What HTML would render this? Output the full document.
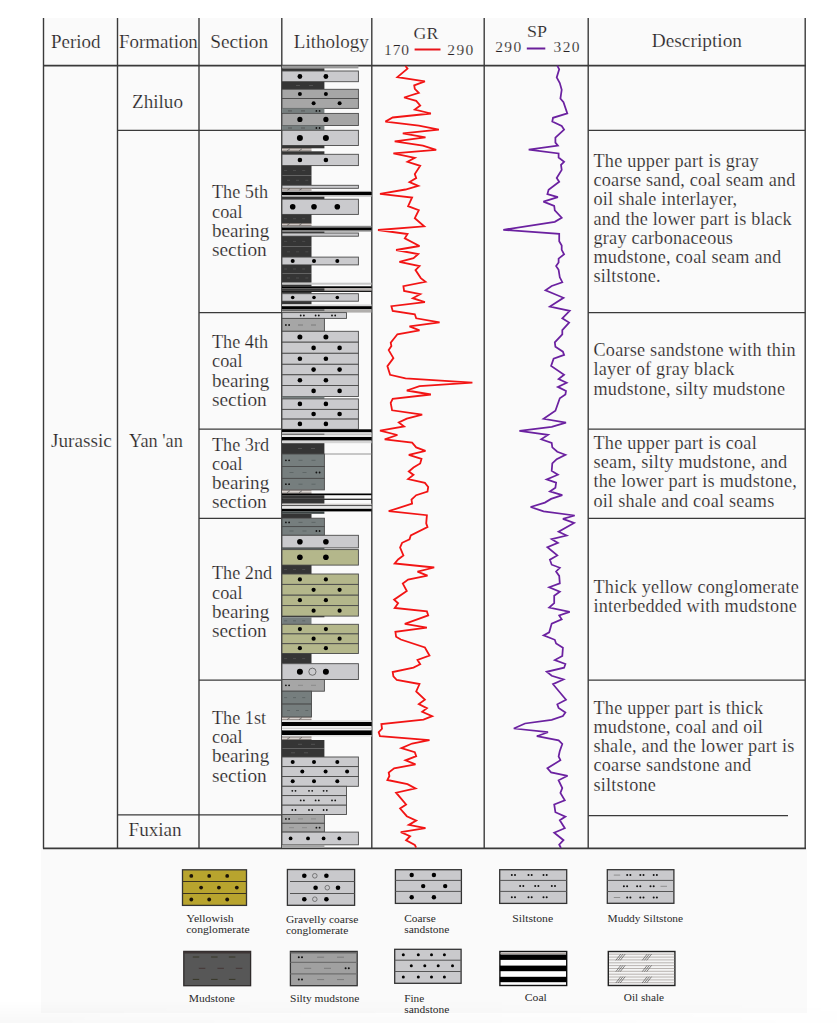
<!DOCTYPE html>
<html><head><meta charset="utf-8"><style>
html,body{margin:0;padding:0;background:#ffffff;width:837px;height:1023px;overflow:hidden}
svg{display:block}
</style></head><body>
<svg width="837" height="1023" viewBox="0 0 837 1023">
<rect x="43" y="18" width="763" height="831" fill="#fafafa"/>
<rect x="41" y="848" width="766" height="165" fill="#fafafa"/>
<line x1="43.5" y1="18" x2="43.5" y2="848.4" stroke="#3a3a3a" stroke-width="1.4"/>
<line x1="117.5" y1="18" x2="117.5" y2="848.4" stroke="#3a3a3a" stroke-width="1.4"/>
<line x1="199" y1="18" x2="199" y2="848.4" stroke="#3a3a3a" stroke-width="1.4"/>
<line x1="281.8" y1="18" x2="281.8" y2="848.4" stroke="#3a3a3a" stroke-width="1.4"/>
<line x1="371.8" y1="18" x2="371.8" y2="848.4" stroke="#3a3a3a" stroke-width="1.4"/>
<line x1="484.2" y1="18" x2="484.2" y2="848.4" stroke="#3a3a3a" stroke-width="1.4"/>
<line x1="588.2" y1="18" x2="588.2" y2="848.4" stroke="#3a3a3a" stroke-width="1.4"/>
<line x1="805.2" y1="18" x2="805.2" y2="848.4" stroke="#3a3a3a" stroke-width="1.4"/>
<line x1="43" y1="65.7" x2="806" y2="65.7" stroke="#3a3a3a" stroke-width="1.8"/>
<line x1="43" y1="848.3" x2="806" y2="848.3" stroke="#3a3a3a" stroke-width="1.8"/>
<line x1="117.5" y1="130.3" x2="281.8" y2="130.3" stroke="#3a3a3a" stroke-width="1.3"/>
<line x1="117.5" y1="814.8" x2="281.8" y2="814.8" stroke="#3a3a3a" stroke-width="1.3"/>
<line x1="199" y1="312.7" x2="281.8" y2="312.7" stroke="#3a3a3a" stroke-width="1.3"/>
<line x1="588.2" y1="312.7" x2="805.2" y2="312.7" stroke="#3a3a3a" stroke-width="1.3"/>
<line x1="199" y1="429.2" x2="281.8" y2="429.2" stroke="#3a3a3a" stroke-width="1.3"/>
<line x1="588.2" y1="429.2" x2="805.2" y2="429.2" stroke="#3a3a3a" stroke-width="1.3"/>
<line x1="199" y1="518.3" x2="281.8" y2="518.3" stroke="#3a3a3a" stroke-width="1.3"/>
<line x1="588.2" y1="518.3" x2="805.2" y2="518.3" stroke="#3a3a3a" stroke-width="1.3"/>
<line x1="199" y1="680.2" x2="281.8" y2="680.2" stroke="#3a3a3a" stroke-width="1.3"/>
<line x1="588.2" y1="680.2" x2="805.2" y2="680.2" stroke="#3a3a3a" stroke-width="1.3"/>
<line x1="588.2" y1="130.3" x2="805.2" y2="130.3" stroke="#3a3a3a" stroke-width="1.3"/>
<line x1="588.2" y1="815.6" x2="788" y2="815.6" stroke="#3a3a3a" stroke-width="1.3"/>
<rect x="282" y="65.6" width="76.4" height="2.8" fill="#9a9a9a"/>
<rect x="282" y="68.4" width="42.4" height="2.6" fill="#353535"/>
<rect x="282" y="71" width="76.4" height="10.7" fill="#cacacd" stroke="#4a4a4a" stroke-width="0.9"/>
<circle cx="299.9" cy="76.5" r="2.4" fill="#000"/>
<circle cx="325.9" cy="76.5" r="2.4" fill="#000"/>
<rect x="282" y="81.7" width="42.4" height="7.6" fill="#353535"/>
<line x1="296" y1="85.5" x2="300" y2="85.5" stroke="#555" stroke-width="0.9"/>
<line x1="309" y1="85.5" x2="313" y2="85.5" stroke="#555" stroke-width="0.9"/>
<rect x="282" y="89.3" width="76.4" height="9.2" fill="#a6a6a6" stroke="#4a4a4a" stroke-width="0.9"/>
<circle cx="299.9" cy="94" r="2" fill="#000"/>
<circle cx="325.9" cy="94" r="2" fill="#000"/>
<rect x="282" y="98.5" width="76.4" height="9.9" fill="#a6a6a6" stroke="#4a4a4a" stroke-width="0.9"/>
<circle cx="313.6" cy="103.3" r="2" fill="#000"/>
<circle cx="339.6" cy="103.3" r="2" fill="#000"/>
<rect x="282" y="108.4" width="42.4" height="5" fill="#767e7e"/>
<line x1="288" y1="110.9" x2="292" y2="110.9" stroke="#555" stroke-width="0.9"/>
<line x1="301" y1="110.9" x2="305" y2="110.9" stroke="#555" stroke-width="0.9"/>
<circle cx="316.4" cy="110.9" r="0.9" fill="#111"/><circle cx="319.6" cy="110.9" r="0.9" fill="#111"/>
<rect x="282" y="113.4" width="76.4" height="12.1" fill="#a6a6a6" stroke="#4a4a4a" stroke-width="0.9"/>
<circle cx="299.9" cy="119.4" r="2.6" fill="#000"/>
<circle cx="325.9" cy="119.4" r="2.6" fill="#000"/>
<rect x="282" y="125.5" width="42.4" height="4.8" fill="#767e7e"/>
<line x1="288" y1="128" x2="292" y2="128" stroke="#555" stroke-width="0.9"/>
<line x1="301" y1="128" x2="305" y2="128" stroke="#555" stroke-width="0.9"/>
<circle cx="316.4" cy="128" r="0.9" fill="#111"/><circle cx="319.6" cy="128" r="0.9" fill="#111"/>
<rect x="282" y="130.3" width="76.4" height="15.2" fill="#cacacd" stroke="#4a4a4a" stroke-width="0.9"/>
<circle cx="299.9" cy="137.9" r="3" fill="#000"/>
<circle cx="325.9" cy="137.9" r="3" fill="#000"/>
<rect x="282" y="145.5" width="42.4" height="2.8" fill="#353535"/>
<rect x="282" y="148.3" width="29.5" height="3" fill="#d9d3cf"/>
<line x1="282" y1="148.7" x2="311.5" y2="148.7" stroke="#6a625e" stroke-width="0.8"/>
<line x1="282" y1="150.9" x2="311.5" y2="150.9" stroke="#6a625e" stroke-width="0.8"/>
<line x1="287" y1="150.8" x2="290" y2="148.8" stroke="#555" stroke-width="0.7"/>
<line x1="299" y1="150.8" x2="302" y2="148.8" stroke="#555" stroke-width="0.7"/>
<rect x="282" y="151.3" width="42.4" height="3" fill="#353535"/>
<rect x="282" y="154.3" width="76.4" height="11.3" fill="#cacacd" stroke="#4a4a4a" stroke-width="0.9"/>
<circle cx="299.9" cy="160" r="2.3" fill="#000"/>
<circle cx="325.9" cy="160" r="2.3" fill="#000"/>
<rect x="282" y="165.6" width="29.5" height="9.8" fill="#353535"/>
<line x1="284.1" y1="170.5" x2="287.1" y2="170.5" stroke="#4e4e4e" stroke-width="0.9"/>
<line x1="293" y1="170.5" x2="296" y2="170.5" stroke="#4e4e4e" stroke-width="0.9"/>
<line x1="302.2" y1="170.5" x2="305.2" y2="170.5" stroke="#4e4e4e" stroke-width="0.9"/>
<rect x="282" y="175.4" width="29.5" height="9.9" fill="#353535"/>
<line x1="287" y1="180.3" x2="290" y2="180.3" stroke="#4e4e4e" stroke-width="0.9"/>
<line x1="296" y1="180.3" x2="299" y2="180.3" stroke="#4e4e4e" stroke-width="0.9"/>
<line x1="305.3" y1="180.3" x2="308.3" y2="180.3" stroke="#4e4e4e" stroke-width="0.9"/>
<rect x="282" y="185.3" width="76.4" height="3" fill="#cacacd" stroke="#4a4a4a" stroke-width="0.9"/>
<rect x="282" y="188.3" width="29.5" height="2.4" fill="#d9d3cf"/>
<line x1="282" y1="188.7" x2="311.5" y2="188.7" stroke="#6a625e" stroke-width="0.8"/>
<line x1="282" y1="190.3" x2="311.5" y2="190.3" stroke="#6a625e" stroke-width="0.8"/>
<line x1="287" y1="190.5" x2="290" y2="188.5" stroke="#555" stroke-width="0.7"/>
<line x1="299" y1="190.5" x2="302" y2="188.5" stroke="#555" stroke-width="0.7"/>
<rect x="282" y="190.7" width="89.5" height="1" fill="#e8e8e8"/>
<rect x="282" y="191.7" width="89.5" height="3.3" fill="#000"/>
<rect x="282" y="195" width="89.5" height="1.7" fill="#bcbcbc"/>
<rect x="282" y="196.7" width="42.4" height="2.5" fill="#353535"/>
<rect x="282" y="199.2" width="76.4" height="15.2" fill="#cacacd" stroke="#4a4a4a" stroke-width="0.9"/>
<circle cx="292.7" cy="206.7" r="2.8" fill="#000"/>
<circle cx="314" cy="206.7" r="2.8" fill="#000"/>
<circle cx="337.3" cy="206.7" r="2.8" fill="#000"/>
<rect x="282" y="214.4" width="29.5" height="8.7" fill="#353535"/>
<line x1="284.1" y1="218.7" x2="287.1" y2="218.7" stroke="#4e4e4e" stroke-width="0.9"/>
<line x1="293" y1="218.7" x2="296" y2="218.7" stroke="#4e4e4e" stroke-width="0.9"/>
<line x1="302.2" y1="218.7" x2="305.2" y2="218.7" stroke="#4e4e4e" stroke-width="0.9"/>
<rect x="282" y="223.1" width="29.5" height="2.7" fill="#d9d3cf"/>
<line x1="282" y1="223.5" x2="311.5" y2="223.5" stroke="#6a625e" stroke-width="0.8"/>
<line x1="282" y1="225.4" x2="311.5" y2="225.4" stroke="#6a625e" stroke-width="0.8"/>
<line x1="287" y1="225.4" x2="290" y2="223.4" stroke="#555" stroke-width="0.7"/>
<line x1="299" y1="225.4" x2="302" y2="223.4" stroke="#555" stroke-width="0.7"/>
<rect x="282" y="225.8" width="89.5" height="1.7" fill="#8a8a8a"/>
<rect x="282" y="227.5" width="89.5" height="3" fill="#000"/>
<rect x="282" y="230.5" width="89.5" height="1.1" fill="#8a8a8a"/>
<rect x="282" y="231.6" width="42.4" height="1.4" fill="#353535"/>
<rect x="282" y="233" width="76.4" height="3.2" fill="#cacacd" stroke="#4a4a4a" stroke-width="0.9"/>
<rect x="282" y="236.2" width="29.5" height="10.4" fill="#353535"/>
<line x1="284.1" y1="241.4" x2="287.1" y2="241.4" stroke="#4e4e4e" stroke-width="0.9"/>
<line x1="293" y1="241.4" x2="296" y2="241.4" stroke="#4e4e4e" stroke-width="0.9"/>
<line x1="302.2" y1="241.4" x2="305.2" y2="241.4" stroke="#4e4e4e" stroke-width="0.9"/>
<rect x="282" y="246.6" width="29.5" height="10.5" fill="#353535"/>
<line x1="287" y1="251.8" x2="290" y2="251.8" stroke="#4e4e4e" stroke-width="0.9"/>
<line x1="296" y1="251.8" x2="299" y2="251.8" stroke="#4e4e4e" stroke-width="0.9"/>
<line x1="305.3" y1="251.8" x2="308.3" y2="251.8" stroke="#4e4e4e" stroke-width="0.9"/>
<rect x="282" y="257.1" width="76.4" height="7.8" fill="#cacacd" stroke="#4a4a4a" stroke-width="0.9"/>
<circle cx="292.7" cy="261" r="2" fill="#000"/>
<circle cx="314" cy="261" r="2" fill="#000"/>
<circle cx="337.3" cy="261" r="2" fill="#000"/>
<rect x="282" y="264.9" width="29.5" height="8.5" fill="#353535"/>
<line x1="284.1" y1="269" x2="287.1" y2="269" stroke="#4e4e4e" stroke-width="0.9"/>
<line x1="293" y1="269" x2="296" y2="269" stroke="#4e4e4e" stroke-width="0.9"/>
<line x1="302.2" y1="269" x2="305.2" y2="269" stroke="#4e4e4e" stroke-width="0.9"/>
<rect x="282" y="273.4" width="29.5" height="9.3" fill="#353535"/>
<line x1="287" y1="278" x2="290" y2="278" stroke="#4e4e4e" stroke-width="0.9"/>
<line x1="296" y1="278" x2="299" y2="278" stroke="#4e4e4e" stroke-width="0.9"/>
<line x1="305.3" y1="278" x2="308.3" y2="278" stroke="#4e4e4e" stroke-width="0.9"/>
<rect x="282" y="282.7" width="89.5" height="2" fill="#c8c8c8"/>
<rect x="282" y="284.7" width="29.5" height="1.6" fill="#353535"/>
<rect x="282" y="286.3" width="89.5" height="2" fill="#000"/>
<rect x="282" y="288.3" width="89.5" height="2.4" fill="#b8b3b0"/>
<rect x="282" y="288.3" width="42.4" height="2.4" fill="#3a3a3a"/>
<rect x="282" y="290.7" width="89.5" height="1.2" fill="#000"/>
<rect x="282" y="291.9" width="29.5" height="1.8" fill="#353535"/>
<rect x="282" y="293.7" width="76.4" height="7.5" fill="#cacacd" stroke="#4a4a4a" stroke-width="0.9"/>
<circle cx="292.7" cy="297.5" r="1.8" fill="#000"/>
<circle cx="314" cy="297.5" r="1.8" fill="#000"/>
<circle cx="337.3" cy="297.5" r="1.8" fill="#000"/>
<rect x="282" y="301.2" width="29.5" height="3.2" fill="#353535"/>
<rect x="282" y="304.4" width="89.5" height="1.8" fill="#d8d8d8"/>
<rect x="282" y="306.2" width="89.5" height="3" fill="#000"/>
<rect x="282" y="309.2" width="89.5" height="3.4" fill="#b0aeac"/>
<rect x="282" y="309.2" width="42.4" height="1.8" fill="#666"/>
<rect x="282" y="312.6" width="64.5" height="5.8" fill="#cacacd" stroke="#4a4a4a" stroke-width="0.9"/>
<circle cx="300.7" cy="315.5" r="0.9" fill="#111"/><circle cx="303.9" cy="315.5" r="0.9" fill="#111"/>
<circle cx="315.6" cy="315.5" r="0.9" fill="#111"/><circle cx="318.8" cy="315.5" r="0.9" fill="#111"/>
<circle cx="332" cy="315.5" r="0.9" fill="#111"/><circle cx="335.2" cy="315.5" r="0.9" fill="#111"/>
<rect x="282" y="318.4" width="42.4" height="12.9" fill="#a6a6a6" stroke="#4a4a4a" stroke-width="0.9"/>
<circle cx="285.9" cy="325" r="0.9" fill="#111"/><circle cx="289.1" cy="325" r="0.9" fill="#111"/>
<line x1="298" y1="325" x2="303" y2="325" stroke="#777" stroke-width="0.9"/>
<line x1="311" y1="325" x2="316" y2="325" stroke="#777" stroke-width="0.9"/>
<rect x="282" y="331.3" width="76.4" height="10.9" fill="#cacacd" stroke="#4a4a4a" stroke-width="0.9"/>
<circle cx="299.9" cy="337" r="2.5" fill="#000"/>
<circle cx="325.9" cy="337" r="2.5" fill="#000"/>
<rect x="282" y="342.2" width="76.4" height="11.1" fill="#cacacd" stroke="#4a4a4a" stroke-width="0.9"/>
<circle cx="313.6" cy="347.9" r="2.3" fill="#000"/>
<circle cx="339.6" cy="347.9" r="2.3" fill="#000"/>
<rect x="282" y="353.3" width="76.4" height="11" fill="#cacacd" stroke="#4a4a4a" stroke-width="0.9"/>
<circle cx="299.9" cy="358.7" r="2.3" fill="#000"/>
<circle cx="325.9" cy="358.7" r="2.3" fill="#000"/>
<rect x="282" y="364.3" width="76.4" height="10.5" fill="#cacacd" stroke="#4a4a4a" stroke-width="0.9"/>
<circle cx="313.6" cy="369.6" r="2.3" fill="#000"/>
<circle cx="339.6" cy="369.6" r="2.3" fill="#000"/>
<rect x="282" y="374.8" width="76.4" height="10.7" fill="#cacacd" stroke="#4a4a4a" stroke-width="0.9"/>
<circle cx="299.9" cy="380.2" r="2.3" fill="#000"/>
<circle cx="325.9" cy="380.2" r="2.3" fill="#000"/>
<rect x="282" y="385.5" width="76.4" height="11" fill="#cacacd" stroke="#4a4a4a" stroke-width="0.9"/>
<circle cx="313.6" cy="390.9" r="2.3" fill="#000"/>
<circle cx="339.6" cy="390.9" r="2.3" fill="#000"/>
<rect x="282" y="396.5" width="42.4" height="2.4" fill="#767e7e"/>
<rect x="282" y="398.9" width="76.4" height="10.5" fill="#cacacd" stroke="#4a4a4a" stroke-width="0.9"/>
<circle cx="299.9" cy="403.9" r="2.3" fill="#000"/>
<circle cx="325.9" cy="403.9" r="2.3" fill="#000"/>
<rect x="282" y="409.4" width="76.4" height="9.7" fill="#cacacd" stroke="#4a4a4a" stroke-width="0.9"/>
<circle cx="313.6" cy="414" r="2.3" fill="#000"/>
<circle cx="339.6" cy="414" r="2.3" fill="#000"/>
<rect x="282" y="419.1" width="76.4" height="10.2" fill="#cacacd" stroke="#4a4a4a" stroke-width="0.9"/>
<circle cx="299.9" cy="423.9" r="2.3" fill="#000"/>
<circle cx="325.9" cy="423.9" r="2.3" fill="#000"/>
<rect x="282" y="429.3" width="89.5" height="3.1" fill="#000"/>
<rect x="282" y="432.4" width="89.5" height="4.6" fill="#e6e6e6"/>
<line x1="282" y1="434.2" x2="371.5" y2="434.2" stroke="#aaa" stroke-width="0.8"/>
<line x1="282" y1="434.2" x2="324.4" y2="434.2" stroke="#444" stroke-width="0.9"/>
<rect x="282" y="437" width="89.5" height="3.6" fill="#000"/>
<rect x="282" y="440.6" width="89.5" height="2.6" fill="#d6d6d6"/>
<rect x="282" y="443.2" width="42.4" height="10.8" fill="#353535"/>
<line x1="298" y1="448.5" x2="302" y2="448.5" stroke="#555" stroke-width="0.9"/>
<line x1="311" y1="448.5" x2="315" y2="448.5" stroke="#555" stroke-width="0.9"/>
<line x1="324.4" y1="454" x2="371.5" y2="454" stroke="#888" stroke-width="0.9"/>
<rect x="282" y="454" width="42.4" height="12.5" fill="#767e7e" stroke="#4a4a4a" stroke-width="0.9"/>
<circle cx="285.9" cy="460.3" r="0.9" fill="#111"/><circle cx="289.1" cy="460.3" r="0.9" fill="#111"/>
<line x1="298.5" y1="460.3" x2="302.5" y2="460.3" stroke="#5c6464" stroke-width="0.9"/>
<line x1="311.5" y1="460.3" x2="315.5" y2="460.3" stroke="#5c6464" stroke-width="0.9"/>
<rect x="282" y="466.5" width="42.4" height="11.9" fill="#767e7e" stroke="#4a4a4a" stroke-width="0.9"/>
<line x1="289.5" y1="472.5" x2="293.5" y2="472.5" stroke="#5c6464" stroke-width="0.9"/>
<line x1="302.5" y1="472.5" x2="306.5" y2="472.5" stroke="#5c6464" stroke-width="0.9"/>
<circle cx="316.4" cy="472.5" r="0.9" fill="#111"/><circle cx="319.6" cy="472.5" r="0.9" fill="#111"/>
<rect x="282" y="478.4" width="42.4" height="11.5" fill="#767e7e" stroke="#4a4a4a" stroke-width="0.9"/>
<circle cx="285.9" cy="484.2" r="0.9" fill="#111"/><circle cx="289.1" cy="484.2" r="0.9" fill="#111"/>
<line x1="298.5" y1="484.2" x2="302.5" y2="484.2" stroke="#5c6464" stroke-width="0.9"/>
<line x1="311.5" y1="484.2" x2="315.5" y2="484.2" stroke="#5c6464" stroke-width="0.9"/>
<rect x="282" y="489.9" width="29.5" height="3.6" fill="#d9d3cf"/>
<line x1="282" y1="490.3" x2="311.5" y2="490.3" stroke="#6a625e" stroke-width="0.8"/>
<line x1="282" y1="493.1" x2="311.5" y2="493.1" stroke="#6a625e" stroke-width="0.8"/>
<line x1="287" y1="492.7" x2="290" y2="490.7" stroke="#555" stroke-width="0.7"/>
<line x1="299" y1="492.7" x2="302" y2="490.7" stroke="#555" stroke-width="0.7"/>
<rect x="282" y="493.5" width="89.5" height="1.7" fill="#000"/>
<rect x="282" y="495.2" width="42.4" height="3.5" fill="#353535"/>
<rect x="282" y="498.7" width="89.5" height="1.1" fill="#000"/>
<rect x="282" y="499.8" width="42.4" height="3.9" fill="#353535"/>
<rect x="282" y="503.7" width="89.5" height="1.5" fill="#d0cdcb"/>
<rect x="282" y="505.2" width="89.5" height="1" fill="#333"/>
<rect x="282" y="506.2" width="89.5" height="2.6" fill="#e8e8e8"/>
<rect x="282" y="508.8" width="89.5" height="2.6" fill="#000"/>
<rect x="282" y="511.4" width="42.4" height="2.4" fill="#3c4444"/>
<rect x="282" y="513.8" width="29.5" height="4.4" fill="#353535"/>
<rect x="282" y="518.2" width="42.4" height="8.4" fill="#767e7e" stroke="#4a4a4a" stroke-width="0.9"/>
<circle cx="285.9" cy="522.4" r="0.9" fill="#111"/><circle cx="289.1" cy="522.4" r="0.9" fill="#111"/>
<line x1="298.5" y1="522.4" x2="302.5" y2="522.4" stroke="#5c6464" stroke-width="0.9"/>
<line x1="311.5" y1="522.4" x2="315.5" y2="522.4" stroke="#5c6464" stroke-width="0.9"/>
<rect x="282" y="526.6" width="42.4" height="8.7" fill="#767e7e" stroke="#4a4a4a" stroke-width="0.9"/>
<line x1="289.5" y1="531" x2="293.5" y2="531" stroke="#5c6464" stroke-width="0.9"/>
<line x1="302.5" y1="531" x2="306.5" y2="531" stroke="#5c6464" stroke-width="0.9"/>
<circle cx="316.4" cy="531" r="0.9" fill="#111"/><circle cx="319.6" cy="531" r="0.9" fill="#111"/>
<rect x="282" y="535.3" width="76.4" height="12.6" fill="#cacacd" stroke="#4a4a4a" stroke-width="0.9"/>
<circle cx="299.9" cy="541.7" r="2.8" fill="#000"/>
<circle cx="325.9" cy="541.7" r="2.8" fill="#000"/>
<rect x="282" y="547.9" width="42.4" height="1.7" fill="#555c5c"/>
<rect x="282" y="549.6" width="76.4" height="15.5" fill="#b4b78b" stroke="#4a4a4a" stroke-width="0.9"/>
<circle cx="299.9" cy="557.3" r="2.8" fill="#000"/>
<circle cx="325.9" cy="557.3" r="2.8" fill="#000"/>
<rect x="282" y="565.1" width="29.5" height="8.9" fill="#353535"/>
<line x1="284.1" y1="569.5" x2="287.1" y2="569.5" stroke="#4e4e4e" stroke-width="0.9"/>
<line x1="293" y1="569.5" x2="296" y2="569.5" stroke="#4e4e4e" stroke-width="0.9"/>
<line x1="302.2" y1="569.5" x2="305.2" y2="569.5" stroke="#4e4e4e" stroke-width="0.9"/>
<rect x="282" y="574" width="76.4" height="10.4" fill="#b4b78b" stroke="#4a4a4a" stroke-width="0.9"/>
<circle cx="299.9" cy="579.4" r="2.1" fill="#000"/>
<circle cx="325.9" cy="579.4" r="2.1" fill="#000"/>
<rect x="282" y="584.4" width="76.4" height="10.8" fill="#b4b78b" stroke="#4a4a4a" stroke-width="0.9"/>
<circle cx="313.6" cy="589.8" r="2.1" fill="#000"/>
<circle cx="339.6" cy="589.8" r="2.1" fill="#000"/>
<rect x="282" y="595.2" width="76.4" height="10.4" fill="#b4b78b" stroke="#4a4a4a" stroke-width="0.9"/>
<circle cx="299.9" cy="600.2" r="2.1" fill="#000"/>
<circle cx="325.9" cy="600.2" r="2.1" fill="#000"/>
<rect x="282" y="605.6" width="76.4" height="10.5" fill="#b4b78b" stroke="#4a4a4a" stroke-width="0.9"/>
<circle cx="313.6" cy="610.7" r="2.1" fill="#000"/>
<circle cx="339.6" cy="610.7" r="2.1" fill="#000"/>
<rect x="282" y="616.1" width="42.4" height="1.2" fill="#353535"/>
<rect x="282" y="617.3" width="29.5" height="7" fill="#767e7e"/>
<line x1="284.1" y1="620.8" x2="287.1" y2="620.8" stroke="#5c6464" stroke-width="0.9"/>
<line x1="293" y1="620.8" x2="296" y2="620.8" stroke="#5c6464" stroke-width="0.9"/>
<line x1="302.2" y1="620.8" x2="305.2" y2="620.8" stroke="#5c6464" stroke-width="0.9"/>
<rect x="282" y="624.3" width="76.4" height="9.6" fill="#b4b78b" stroke="#4a4a4a" stroke-width="0.9"/>
<circle cx="299.9" cy="629.1" r="2.1" fill="#000"/>
<circle cx="325.9" cy="629.1" r="2.1" fill="#000"/>
<rect x="282" y="633.9" width="76.4" height="9.8" fill="#b4b78b" stroke="#4a4a4a" stroke-width="0.9"/>
<circle cx="313.6" cy="638.7" r="2.1" fill="#000"/>
<circle cx="339.6" cy="638.7" r="2.1" fill="#000"/>
<rect x="282" y="643.7" width="76.4" height="9.8" fill="#b4b78b" stroke="#4a4a4a" stroke-width="0.9"/>
<circle cx="299.9" cy="648.2" r="2.1" fill="#000"/>
<circle cx="325.9" cy="648.2" r="2.1" fill="#000"/>
<rect x="282" y="653.5" width="29.5" height="10.2" fill="#353535"/>
<line x1="284.1" y1="658.6" x2="287.1" y2="658.6" stroke="#4e4e4e" stroke-width="0.9"/>
<line x1="293" y1="658.6" x2="296" y2="658.6" stroke="#4e4e4e" stroke-width="0.9"/>
<line x1="302.2" y1="658.6" x2="305.2" y2="658.6" stroke="#4e4e4e" stroke-width="0.9"/>
<rect x="282" y="663.7" width="76.4" height="15.8" fill="#cacacd" stroke="#4a4a4a" stroke-width="0.9"/>
<circle cx="299.9" cy="671.7" r="3" fill="#000"/>
<circle cx="325.9" cy="671.7" r="3" fill="#000"/>
<circle cx="312.4" cy="671.7" r="3.6" fill="none" stroke="#555" stroke-width="0.8"/>
<rect x="282" y="679.5" width="42.4" height="11.7" fill="#a6a6a6" stroke="#4a4a4a" stroke-width="0.9"/>
<circle cx="285.9" cy="685.3" r="0.9" fill="#111"/><circle cx="289.1" cy="685.3" r="0.9" fill="#111"/>
<line x1="298" y1="685.3" x2="303" y2="685.3" stroke="#888" stroke-width="0.9"/>
<line x1="311" y1="685.3" x2="316" y2="685.3" stroke="#888" stroke-width="0.9"/>
<rect x="282" y="691.2" width="29.5" height="12.9" fill="#767e7e" stroke="#4a4a4a" stroke-width="0.9"/>
<line x1="284.1" y1="697.6" x2="287.1" y2="697.6" stroke="#5c6464" stroke-width="0.9"/>
<line x1="293" y1="697.6" x2="296" y2="697.6" stroke="#5c6464" stroke-width="0.9"/>
<line x1="302.2" y1="697.6" x2="305.2" y2="697.6" stroke="#5c6464" stroke-width="0.9"/>
<rect x="282" y="704.1" width="29.5" height="12.9" fill="#767e7e" stroke="#4a4a4a" stroke-width="0.9"/>
<line x1="287" y1="710.5" x2="290" y2="710.5" stroke="#5c6464" stroke-width="0.9"/>
<line x1="296" y1="710.5" x2="299" y2="710.5" stroke="#5c6464" stroke-width="0.9"/>
<line x1="305.3" y1="710.5" x2="308.3" y2="710.5" stroke="#5c6464" stroke-width="0.9"/>
<rect x="282" y="717" width="29.5" height="3.2" fill="#d9d3cf"/>
<line x1="282" y1="717.4" x2="311.5" y2="717.4" stroke="#6a625e" stroke-width="0.8"/>
<line x1="282" y1="719.8" x2="311.5" y2="719.8" stroke="#6a625e" stroke-width="0.8"/>
<line x1="287" y1="719.6" x2="290" y2="717.6" stroke="#555" stroke-width="0.7"/>
<line x1="299" y1="719.6" x2="302" y2="717.6" stroke="#555" stroke-width="0.7"/>
<rect x="282" y="720.2" width="89.5" height="1.8" fill="#e0e0e0"/>
<rect x="282" y="722" width="89.5" height="4.2" fill="#000"/>
<rect x="282" y="726.2" width="89.5" height="4.2" fill="#f4f4f4"/>
<line x1="282" y1="728.3" x2="371.5" y2="728.3" stroke="#bbb" stroke-width="0.8"/>
<rect x="282" y="730.4" width="89.5" height="4.6" fill="#000"/>
<rect x="282" y="735" width="89.5" height="1.6" fill="#e0e0e0"/>
<rect x="282" y="736.6" width="29.5" height="3.4" fill="#d9d3cf"/>
<line x1="282" y1="737" x2="311.5" y2="737" stroke="#6a625e" stroke-width="0.8"/>
<line x1="282" y1="739.6" x2="311.5" y2="739.6" stroke="#6a625e" stroke-width="0.8"/>
<line x1="287" y1="739.3" x2="290" y2="737.3" stroke="#555" stroke-width="0.7"/>
<line x1="299" y1="739.3" x2="302" y2="737.3" stroke="#555" stroke-width="0.7"/>
<rect x="282" y="740" width="42.4" height="8.6" fill="#353535"/>
<line x1="298" y1="744.3" x2="302" y2="744.3" stroke="#555" stroke-width="0.9"/>
<line x1="311" y1="744.3" x2="315" y2="744.3" stroke="#555" stroke-width="0.9"/>
<rect x="282" y="748.6" width="42.4" height="8.4" fill="#353535"/>
<line x1="291" y1="752.8" x2="295" y2="752.8" stroke="#555" stroke-width="0.9"/>
<line x1="304" y1="752.8" x2="308" y2="752.8" stroke="#555" stroke-width="0.9"/>
<rect x="282" y="757" width="76.4" height="9.6" fill="#cacacd" stroke="#4a4a4a" stroke-width="0.9"/>
<circle cx="292.7" cy="761.9" r="2" fill="#000"/>
<circle cx="314" cy="761.9" r="2" fill="#000"/>
<circle cx="337.3" cy="761.9" r="2" fill="#000"/>
<rect x="282" y="766.6" width="76.4" height="9.9" fill="#cacacd" stroke="#4a4a4a" stroke-width="0.9"/>
<circle cx="302.3" cy="771.5" r="2" fill="#000"/>
<circle cx="325.6" cy="771.5" r="2" fill="#000"/>
<circle cx="347.1" cy="771.5" r="2" fill="#000"/>
<rect x="282" y="776.5" width="76.4" height="9.8" fill="#cacacd" stroke="#4a4a4a" stroke-width="0.9"/>
<circle cx="292.7" cy="781.3" r="2" fill="#000"/>
<circle cx="314" cy="781.3" r="2" fill="#000"/>
<circle cx="337.3" cy="781.3" r="2" fill="#000"/>
<rect x="282" y="786.3" width="64.5" height="9.3" fill="#cacacd" stroke="#4a4a4a" stroke-width="0.9"/>
<circle cx="292.3" cy="790.8" r="0.9" fill="#111"/><circle cx="295.5" cy="790.8" r="0.9" fill="#111"/>
<circle cx="309" cy="790.8" r="0.9" fill="#111"/><circle cx="312.2" cy="790.8" r="0.9" fill="#111"/>
<circle cx="323.6" cy="790.8" r="0.9" fill="#111"/><circle cx="326.8" cy="790.8" r="0.9" fill="#111"/>
<rect x="282" y="795.6" width="64.5" height="9.6" fill="#cacacd" stroke="#4a4a4a" stroke-width="0.9"/>
<circle cx="300.7" cy="800.4" r="0.9" fill="#111"/><circle cx="303.9" cy="800.4" r="0.9" fill="#111"/>
<circle cx="315.6" cy="800.4" r="0.9" fill="#111"/><circle cx="318.8" cy="800.4" r="0.9" fill="#111"/>
<circle cx="332" cy="800.4" r="0.9" fill="#111"/><circle cx="335.2" cy="800.4" r="0.9" fill="#111"/>
<rect x="282" y="805.2" width="64.5" height="9.3" fill="#cacacd" stroke="#4a4a4a" stroke-width="0.9"/>
<circle cx="292.3" cy="810" r="0.9" fill="#111"/><circle cx="295.5" cy="810" r="0.9" fill="#111"/>
<circle cx="309" cy="810" r="0.9" fill="#111"/><circle cx="312.2" cy="810" r="0.9" fill="#111"/>
<circle cx="323.6" cy="810" r="0.9" fill="#111"/><circle cx="326.8" cy="810" r="0.9" fill="#111"/>
<rect x="282" y="814.5" width="42.4" height="8.8" fill="#a6a6a6" stroke="#4a4a4a" stroke-width="0.9"/>
<circle cx="285.9" cy="818.9" r="0.9" fill="#111"/><circle cx="289.1" cy="818.9" r="0.9" fill="#111"/>
<line x1="298" y1="818.9" x2="303" y2="818.9" stroke="#888" stroke-width="0.9"/>
<line x1="311" y1="818.9" x2="316" y2="818.9" stroke="#888" stroke-width="0.9"/>
<rect x="282" y="823.3" width="42.4" height="8.8" fill="#a6a6a6" stroke="#4a4a4a" stroke-width="0.9"/>
<line x1="289" y1="827.7" x2="294" y2="827.7" stroke="#888" stroke-width="0.9"/>
<line x1="302" y1="827.7" x2="307" y2="827.7" stroke="#888" stroke-width="0.9"/>
<circle cx="316.4" cy="827.7" r="0.9" fill="#111"/><circle cx="319.6" cy="827.7" r="0.9" fill="#111"/>
<rect x="282" y="832.1" width="76.4" height="12.7" fill="#cacacd" stroke="#4a4a4a" stroke-width="0.9"/>
<circle cx="290.6" cy="838.4" r="1.9" fill="#000"/>
<circle cx="308" cy="838.4" r="1.9" fill="#000"/>
<circle cx="323.6" cy="838.4" r="1.9" fill="#000"/>
<circle cx="339.3" cy="838.4" r="1.9" fill="#000"/>
<rect x="282" y="844.8" width="42.4" height="3.2" fill="#a6a6a6"/>
<polyline points="405.5,66 407.5,68.7 397.4,77.1 424.9,81.4 414.2,85.4 414.8,88.8 418.8,92.8 404.1,97.5 416.2,100.8 420.2,105.5 414.8,109.5 430.9,113.5 392.7,117.5 385.4,121.6 418.8,125.6 438.9,129.6 402.8,133.3 425.5,137.3 394.7,141.4 422.9,145.6 436.2,149.9 393.4,153.3 414.8,157.8 407.5,161.8 420.2,165.8 414.8,174.1 416.2,178.1 409.5,182.1 418.2,185.9 405.5,189.5 380,193.9 412.1,197.5 408.1,206.2 418.8,210.2 414.8,218.2 424.2,226.3 378,230 407.5,234 404.8,238.3 419.5,246 396.1,250 418.2,254.1 413.5,258.1 399.4,261.8 419.5,266.1 415.5,270.1 420.8,278.1 425.5,281.8 403.4,286.2 404.1,290.9 420.2,294.2 412.8,298.2 424.9,302.2 391.4,306.2 392.7,310.9 414.8,314.3 416.2,318.3 439.6,322.3 409.5,326.3 419.5,330.3 397.4,334.3 390.7,342.7 391.4,346.1 388.7,350.1 393.4,358.1 387.4,366.1 390.1,374.8 405.5,378.4 472.4,382.6 419.5,386.2 406.8,390.5 430.9,394.5 392.7,398.9 390.7,402.9 392.1,410.3 422.2,414.6 406.8,418.6 398.8,422.4 404.1,426.5 380,430.7 397.4,435 384.7,439.4 412.1,442.7 416.2,447.4 425.5,450.8 408.8,454.8 421.5,458.8 420.2,463.5 413.5,467.5 408.8,471.5 413.5,474.9 408.1,479.1 424.9,482.9 428.2,486.9 427.5,491.6 416.2,495.2 411.5,499.6 412.1,503.6 388.7,511.2 426.9,515.2 426.2,523.4 427.5,527.1 410.8,535.4 409.5,539.4 402.1,542.8 400.1,547.5 403.4,555.5 398.1,559.5 394.7,563.5 434.2,567.5 417.5,571.6 427.5,575.6 408.1,579.6 402.8,583.6 406.8,591 394.1,599.7 398.1,603.2 394.7,608 426.9,611.4 428.2,615.4 404.8,623.8 426.9,627.7 395.4,631.8 396.1,636.8 400.8,639.5 424.9,647.5 429.5,655.5 417.5,660 420.2,664.2 413.5,667.6 392.7,672 393.4,676.3 396.8,680 419.5,684 416.2,691.5 424.9,699.6 418.8,704.1 426.9,708.1 422.2,711.7 432.2,716.1 423.5,719.7 381.4,724.1 382,728.8 378.7,732.2 380,736.2 429.5,740.2 412.1,743.5 401.4,748.2 414.8,752.2 416.2,756.2 405.5,760.3 415.5,764.3 394.1,768.3 388.7,772.5 389.4,776 387.4,780 407.5,784.1 415.5,788.5 396.1,792.7 406.1,804.5 400.1,808.5 406.8,816.2 416.2,820.6 408.8,824.9 425.5,828.2 400.8,832.2 410.1,836.2 406.1,840.3 414.8,845 416.2,847.6" fill="none" stroke="#f21414" stroke-width="1.8" stroke-linejoin="miter" stroke-miterlimit="3"/>
<polyline points="557.3,65.6 559.2,69.3 556.7,77.4 559.8,83 561.7,89.8 560.4,98.5 563.5,102.2 567.3,113.4 553,117.8 552.3,121.5 561.7,125.9 564.1,129.6 555.4,137.7 555.4,142.6 557.9,145.7 528.7,149.7 558.6,153.5 558.6,157.5 564.1,161.8 561,164.9 561.7,169.9 556.7,178 559.2,181.7 548.6,189.8 547.4,194.1 557.9,197.2 543.4,201.6 554.2,205.9 554.8,210.3 561.7,217.7 554.8,221.8 503.3,229.8 559.2,233.9 559.2,241.3 561.7,245.6 561.7,249.9 564.1,254.3 558.6,258.6 558.6,262.4 556.1,266.1 558.6,269.8 559.8,277.3 562.3,282.2 551.7,286 545.5,290.3 563.5,297.8 549.9,306.5 569.7,310.8 562.3,318.3 569.1,322.6 562.3,330.1 562.3,334.3 554.8,342.4 555.4,346.8 562.9,351.7 564.1,354.9 553.6,358.6 551.1,366 564.1,374.7 558.6,379.1 566.6,382.8 557.9,386.9 566,390.9 565.4,394.6 559.8,398.3 555.4,410.8 543.6,418.8 566,422.6 551.7,426.8 519.4,430.9 548,434.9 541.2,439.3 551.7,443 552.3,447.3 557.3,451.7 565.4,454.8 556.7,459.1 552.3,463.5 551.7,470.9 557.9,474.7 546.7,479.4 556.1,482.7 555.4,487.7 549.9,491.4 562.3,495.2 551.1,498.9 544.9,502.6 530.6,507 543.6,511.3 574.7,515.5 562.9,518.9 574.1,523 558.6,531.7 566.6,535.5 551.7,539.2 557.9,542.9 547.4,547.3 557.3,555.4 549.9,559.7 551.7,564.7 559.8,567.8 556.1,571.5 559.2,575.9 559.8,583.3 549.2,587.3 559.8,591.8 554.2,595.7 554.2,603.2 549.2,607.5 569.7,611.8 559.2,615.5 561.7,619.3 551.7,623.6 549.2,632.3 543.6,635.4 554.8,639.8 556.1,643.5 562.9,647.8 562.3,655.9 554.8,660 565.4,664 564.1,667.7 546.7,671.8 551.7,675.8 563.5,679.5 553,684.2 566,699.7 557.3,704.3 558.6,708 565.4,712.4 562.9,716.1 551.7,719.8 525,723.5 513.8,728.5 548,732.2 536.8,736.2 558.6,740.3 562.3,744 559.8,750.9 558.6,756.5 560.4,760.2 547.4,768.3 551.1,772.4 567.6,775.8 558.6,780.3 562.3,788 560.4,793 564.8,800.4 554.2,804.5 555.4,812.2 565.4,816.6 559.8,820.3 564.8,828.2 554.2,832.7 563.5,840.2 559.2,844.6 561,848" fill="none" stroke="#6b21a0" stroke-width="1.75" stroke-linejoin="miter" stroke-miterlimit="3"/>
<g font-family="Liberation Serif" stroke="#fafafa" stroke-width="0.2">
<text x="51" y="47.5" font-size="18.2" fill="#262223" textLength="49.5" lengthAdjust="spacingAndGlyphs">Period</text>
<text x="119" y="47.5" font-size="18.2" fill="#262223" textLength="78.8" lengthAdjust="spacingAndGlyphs">Formation</text>
<text x="210.2" y="47.5" font-size="18.2" fill="#262223" textLength="58" lengthAdjust="spacingAndGlyphs">Section</text>
<text x="293.8" y="47.8" font-size="18.2" fill="#262223" textLength="75" lengthAdjust="spacingAndGlyphs">Lithology</text>
<text x="413.6" y="39.1" font-size="17.5" fill="#262223" textLength="24.8" lengthAdjust="spacingAndGlyphs">GR</text>
<text x="384" y="54.9" font-size="15.5" fill="#262223" textLength="25" lengthAdjust="spacing">170</text>
<text x="447.3" y="54.9" font-size="15.5" fill="#262223" textLength="26" lengthAdjust="spacing">290</text>
<text x="526.9" y="37.1" font-size="17.5" fill="#262223" textLength="20" lengthAdjust="spacingAndGlyphs">SP</text>
<text x="495.2" y="52.2" font-size="15.5" fill="#262223" textLength="26" lengthAdjust="spacing">290</text>
<text x="553.4" y="52.2" font-size="15.5" fill="#262223" textLength="26.2" lengthAdjust="spacing">320</text>
<text x="651.8" y="47.3" font-size="18.2" fill="#262223" textLength="90.2" lengthAdjust="spacingAndGlyphs">Description</text>
</g>
<line x1="414.6" y1="49.5" x2="440.5" y2="49.5" stroke="#e8141a" stroke-width="2"/>
<line x1="526.8" y1="48.5" x2="545.3" y2="48.5" stroke="#6a1f9a" stroke-width="2"/>
<g font-family="Liberation Serif" stroke="#fafafa" stroke-width="0.2" paint-order="normal">
<text x="132" y="108.2" font-size="18.2" fill="#262223" textLength="51" lengthAdjust="spacingAndGlyphs">Zhiluo</text>
<text x="51" y="447.3" font-size="18.2" fill="#262223" textLength="60.8" lengthAdjust="spacingAndGlyphs">Jurassic</text>
<text x="129" y="447.3" font-size="18.2" fill="#262223" textLength="53.8" lengthAdjust="spacingAndGlyphs">Yan 'an</text>
<text x="212" y="198.2" font-size="18.2" fill="#262223">The 5th</text>
<text x="212" y="217.5" font-size="18.2" fill="#262223" textLength="30.5" lengthAdjust="spacingAndGlyphs">coal</text>
<text x="212" y="236.7" font-size="18.2" fill="#262223" textLength="57.2" lengthAdjust="spacingAndGlyphs">bearing</text>
<text x="212" y="256.2" font-size="18.2" fill="#262223" textLength="54.8" lengthAdjust="spacingAndGlyphs">section</text>
<text x="212" y="348.2" font-size="18.2" fill="#262223">The 4th</text>
<text x="212" y="367.3" font-size="18.2" fill="#262223" textLength="30.5" lengthAdjust="spacingAndGlyphs">coal</text>
<text x="212" y="386.9" font-size="18.2" fill="#262223" textLength="57.2" lengthAdjust="spacingAndGlyphs">bearing</text>
<text x="212" y="405.6" font-size="18.2" fill="#262223" textLength="54.8" lengthAdjust="spacingAndGlyphs">section</text>
<text x="212" y="450.7" font-size="18.2" fill="#262223">The 3rd</text>
<text x="212" y="470.3" font-size="18.2" fill="#262223" textLength="30.5" lengthAdjust="spacingAndGlyphs">coal</text>
<text x="212" y="488.6" font-size="18.2" fill="#262223" textLength="57.2" lengthAdjust="spacingAndGlyphs">bearing</text>
<text x="212" y="508.3" font-size="18.2" fill="#262223" textLength="54.8" lengthAdjust="spacingAndGlyphs">section</text>
<text x="212" y="579.3" font-size="18.2" fill="#262223">The 2nd</text>
<text x="212" y="598.7" font-size="18.2" fill="#262223" textLength="30.5" lengthAdjust="spacingAndGlyphs">coal</text>
<text x="212" y="618" font-size="18.2" fill="#262223" textLength="57.2" lengthAdjust="spacingAndGlyphs">bearing</text>
<text x="212" y="637.2" font-size="18.2" fill="#262223" textLength="54.8" lengthAdjust="spacingAndGlyphs">section</text>
<text x="212" y="723.8" font-size="18.2" fill="#262223">The 1st</text>
<text x="212" y="743.2" font-size="18.2" fill="#262223" textLength="30.5" lengthAdjust="spacingAndGlyphs">coal</text>
<text x="212" y="762.3" font-size="18.2" fill="#262223" textLength="57.2" lengthAdjust="spacingAndGlyphs">bearing</text>
<text x="212" y="781.6" font-size="18.2" fill="#262223" textLength="54.8" lengthAdjust="spacingAndGlyphs">section</text>
<text x="128.5" y="835.8" font-size="18.2" fill="#262223" textLength="53.2" lengthAdjust="spacingAndGlyphs">Fuxian</text>
<text x="593.5" y="167.2" font-size="18.2" fill="#262223" letter-spacing="0.22">The upper part is gray</text>
<text x="593.5" y="186.3" font-size="18.2" fill="#262223" letter-spacing="0.22">coarse sand, coal seam and</text>
<text x="593.5" y="205.4" font-size="18.2" fill="#262223" letter-spacing="0.22">oil shale interlayer,</text>
<text x="593.5" y="224.5" font-size="18.2" fill="#262223" letter-spacing="0.22">and the lower part is black</text>
<text x="593.5" y="243.6" font-size="18.2" fill="#262223" letter-spacing="0.22">gray carbonaceous</text>
<text x="593.5" y="262.7" font-size="18.2" fill="#262223" letter-spacing="0.22">mudstone, coal seam and</text>
<text x="593.5" y="281.8" font-size="18.2" fill="#262223" letter-spacing="0.22">siltstone.</text>
<text x="593.5" y="355.9" font-size="18.2" fill="#262223" letter-spacing="0.22">Coarse sandstone with thin</text>
<text x="593.5" y="375.2" font-size="18.2" fill="#262223" letter-spacing="0.22">layer of gray black</text>
<text x="593.5" y="394.6" font-size="18.2" fill="#262223" letter-spacing="0.22">mudstone, silty mudstone</text>
<text x="593.5" y="448.7" font-size="18.2" fill="#262223" letter-spacing="0.22">The upper part is coal</text>
<text x="593.5" y="468" font-size="18.2" fill="#262223" letter-spacing="0.22">seam, silty mudstone, and</text>
<text x="593.5" y="487.3" font-size="18.2" fill="#262223" letter-spacing="0.22">the lower part is mudstone,</text>
<text x="593.5" y="506.6" font-size="18.2" fill="#262223" letter-spacing="0.22">oil shale and coal seams</text>
<text x="593.5" y="592.8" font-size="18.2" fill="#262223" letter-spacing="0.22">Thick yellow conglomerate</text>
<text x="593.5" y="611.6" font-size="18.2" fill="#262223" letter-spacing="0.22">interbedded with mudstone</text>
<text x="593.5" y="713.8" font-size="18.2" fill="#262223" letter-spacing="0.22">The upper part is thick</text>
<text x="593.5" y="733" font-size="18.2" fill="#262223" letter-spacing="0.22">mudstone, coal and oil</text>
<text x="593.5" y="752.2" font-size="18.2" fill="#262223" letter-spacing="0.22">shale, and the lower part is</text>
<text x="593.5" y="771.4" font-size="18.2" fill="#262223" letter-spacing="0.22">coarse sandstone and</text>
<text x="593.5" y="790.6" font-size="18.2" fill="#262223" letter-spacing="0.22">siltstone</text>
</g>
<rect x="182.5" y="869.8" width="64" height="35.6" fill="#b8a42e" stroke="#333" stroke-width="1.3"/>
<line x1="182.5" y1="881.5" x2="246.5" y2="881.5" stroke="#3a3320" stroke-width="1"/>
<line x1="182.5" y1="893.5" x2="246.5" y2="893.5" stroke="#3a3320" stroke-width="1"/>
<circle cx="191.3" cy="875.9" r="1.9" fill="#1a1208"/>
<circle cx="209.2" cy="875.9" r="1.9" fill="#1a1208"/>
<circle cx="227.2" cy="875.9" r="1.9" fill="#1a1208"/>
<circle cx="201.1" cy="887.6" r="1.9" fill="#1a1208"/>
<circle cx="218.9" cy="887.6" r="1.9" fill="#1a1208"/>
<circle cx="236.8" cy="887.6" r="1.9" fill="#1a1208"/>
<circle cx="191.3" cy="899.5" r="1.9" fill="#1a1208"/>
<circle cx="209.2" cy="899.5" r="1.9" fill="#1a1208"/>
<circle cx="227.2" cy="899.5" r="1.9" fill="#1a1208"/>
<rect x="287.4" y="869.5" width="67.2" height="35.8" fill="#c9c9cc" stroke="#333" stroke-width="1.3"/>
<line x1="290" y1="881.5" x2="354.6" y2="881.5" stroke="#555" stroke-width="1"/>
<line x1="290" y1="893.5" x2="354.6" y2="893.5" stroke="#555" stroke-width="1"/>
<circle cx="304.3" cy="875.8" r="2.3" fill="#000"/>
<circle cx="326.4" cy="875.8" r="2.3" fill="#000"/>
<circle cx="314.8" cy="875.8" r="2.3" fill="none" stroke="#555" stroke-width="0.7"/>
<circle cx="315.6" cy="887.7" r="2.3" fill="#000"/>
<circle cx="338" cy="887.7" r="2.3" fill="#000"/>
<circle cx="327.3" cy="887.7" r="2.3" fill="none" stroke="#555" stroke-width="0.7"/>
<circle cx="304.3" cy="899.2" r="2.3" fill="#000"/>
<circle cx="326.4" cy="899.2" r="2.3" fill="#000"/>
<circle cx="314.8" cy="899.2" r="2.3" fill="none" stroke="#555" stroke-width="0.7"/>
<rect x="395.4" y="869.7" width="66" height="33.7" fill="#c9c9cc" stroke="#333" stroke-width="1.3"/>
<line x1="395.4" y1="880.4" x2="461.4" y2="880.4" stroke="#555" stroke-width="1"/>
<line x1="395.4" y1="891.4" x2="461.4" y2="891.4" stroke="#555" stroke-width="1"/>
<circle cx="411.7" cy="875" r="2.2" fill="#000"/>
<circle cx="433.9" cy="875" r="2.2" fill="#000"/>
<circle cx="423.2" cy="886.1" r="2.2" fill="#000"/>
<circle cx="445.2" cy="886.1" r="2.2" fill="#000"/>
<circle cx="411.7" cy="897.3" r="2.2" fill="#000"/>
<circle cx="433.9" cy="897.3" r="2.2" fill="#000"/>
<rect x="499.7" y="869.7" width="67" height="33.7" fill="#c9c9cc" stroke="#333" stroke-width="1.3"/>
<line x1="499.7" y1="880.4" x2="566.7" y2="880.4" stroke="#555" stroke-width="1"/>
<line x1="499.7" y1="891.4" x2="566.7" y2="891.4" stroke="#555" stroke-width="1"/>
<circle cx="511.8" cy="875" r="1.0" fill="#111"/><circle cx="515" cy="875" r="1.0" fill="#111"/>
<circle cx="528.5" cy="875" r="1.0" fill="#111"/><circle cx="531.7" cy="875" r="1.0" fill="#111"/>
<circle cx="543.5" cy="875" r="1.0" fill="#111"/><circle cx="546.7" cy="875" r="1.0" fill="#111"/>
<circle cx="520.1" cy="886.1" r="1.0" fill="#111"/><circle cx="523.3" cy="886.1" r="1.0" fill="#111"/>
<circle cx="535.2" cy="886.1" r="1.0" fill="#111"/><circle cx="538.4" cy="886.1" r="1.0" fill="#111"/>
<circle cx="551.8" cy="886.1" r="1.0" fill="#111"/><circle cx="555" cy="886.1" r="1.0" fill="#111"/>
<circle cx="511.8" cy="897.3" r="1.0" fill="#111"/><circle cx="515" cy="897.3" r="1.0" fill="#111"/>
<circle cx="528.5" cy="897.3" r="1.0" fill="#111"/><circle cx="531.7" cy="897.3" r="1.0" fill="#111"/>
<circle cx="543.5" cy="897.3" r="1.0" fill="#111"/><circle cx="546.7" cy="897.3" r="1.0" fill="#111"/>
<rect x="607.3" y="869.7" width="66.6" height="33.6" fill="#c9c9cc" stroke="#333" stroke-width="1.3"/>
<line x1="607.3" y1="880.4" x2="673.9" y2="880.4" stroke="#555" stroke-width="1"/>
<line x1="607.3" y1="891.5" x2="673.9" y2="891.5" stroke="#555" stroke-width="1"/>
<circle cx="627.2" cy="875.1" r="1.0" fill="#111"/><circle cx="630.4" cy="875.1" r="1.0" fill="#111"/>
<circle cx="640.3" cy="875.1" r="1.0" fill="#111"/><circle cx="643.5" cy="875.1" r="1.0" fill="#111"/>
<circle cx="653.7" cy="875.1" r="1.0" fill="#111"/><circle cx="656.9" cy="875.1" r="1.0" fill="#111"/>
<line x1="613.8" y1="875.1" x2="620.2" y2="875.1" stroke="#888" stroke-width="0.9"/>
<circle cx="623.9" cy="886.3" r="1.0" fill="#111"/><circle cx="627.1" cy="886.3" r="1.0" fill="#111"/>
<circle cx="637.1" cy="886.3" r="1.0" fill="#111"/><circle cx="640.3" cy="886.3" r="1.0" fill="#111"/>
<circle cx="650.5" cy="886.3" r="1.0" fill="#111"/><circle cx="653.7" cy="886.3" r="1.0" fill="#111"/>
<line x1="660.5" y1="886.3" x2="667" y2="886.3" stroke="#888" stroke-width="0.9"/>
<circle cx="627.2" cy="897.5" r="1.0" fill="#111"/><circle cx="630.4" cy="897.5" r="1.0" fill="#111"/>
<circle cx="640.3" cy="897.5" r="1.0" fill="#111"/><circle cx="643.5" cy="897.5" r="1.0" fill="#111"/>
<circle cx="653.7" cy="897.5" r="1.0" fill="#111"/><circle cx="656.9" cy="897.5" r="1.0" fill="#111"/>
<line x1="613.8" y1="897.5" x2="620.2" y2="897.5" stroke="#888" stroke-width="0.9"/>
<rect x="183.8" y="951.4" width="66.8" height="34.3" fill="#575757" stroke="#2e2a2a" stroke-width="1.3"/>
<line x1="183.8" y1="952.6" x2="250.6" y2="952.6" stroke="#3d3535" stroke-width="2"/>
<line x1="192.8" y1="957" x2="199.2" y2="957" stroke="#332" stroke-width="0.9"/>
<line x1="211.1" y1="957" x2="217.6" y2="957" stroke="#332" stroke-width="0.9"/>
<line x1="228.9" y1="957" x2="235.4" y2="957" stroke="#332" stroke-width="0.9"/>
<line x1="198.8" y1="968.3" x2="205.3" y2="968.3" stroke="#433" stroke-width="0.9"/>
<line x1="217.4" y1="968.3" x2="223.9" y2="968.3" stroke="#433" stroke-width="0.9"/>
<line x1="235.8" y1="968.3" x2="242.3" y2="968.3" stroke="#433" stroke-width="0.9"/>
<line x1="192.8" y1="979.4" x2="199.2" y2="979.4" stroke="#332" stroke-width="0.9"/>
<line x1="211.1" y1="979.4" x2="217.6" y2="979.4" stroke="#332" stroke-width="0.9"/>
<line x1="228.9" y1="979.4" x2="235.4" y2="979.4" stroke="#332" stroke-width="0.9"/>
<rect x="290.4" y="951.4" width="66.8" height="34.3" fill="#a0a0a0" stroke="#333" stroke-width="1.3"/>
<line x1="290.4" y1="952.8" x2="357.2" y2="952.8" stroke="#666" stroke-width="1.6"/>
<line x1="290.4" y1="962.4" x2="357.2" y2="962.4" stroke="#6f6f6f" stroke-width="1.2"/>
<line x1="290.4" y1="973.8" x2="357.2" y2="973.8" stroke="#6f6f6f" stroke-width="1.2"/>
<circle cx="298.8" cy="957.2" r="1.0" fill="#111"/><circle cx="302" cy="957.2" r="1.0" fill="#111"/>
<line x1="317.1" y1="957.2" x2="324.1" y2="957.2" stroke="#777" stroke-width="0.9"/>
<line x1="337" y1="957.2" x2="344" y2="957.2" stroke="#777" stroke-width="0.9"/>
<line x1="304.2" y1="968.3" x2="311.2" y2="968.3" stroke="#777" stroke-width="0.9"/>
<line x1="324" y1="968.3" x2="331" y2="968.3" stroke="#777" stroke-width="0.9"/>
<circle cx="345.6" cy="968.3" r="1.0" fill="#111"/><circle cx="348.8" cy="968.3" r="1.0" fill="#111"/>
<circle cx="298.8" cy="979.6" r="1.0" fill="#111"/><circle cx="302" cy="979.6" r="1.0" fill="#111"/>
<line x1="317.1" y1="979.6" x2="324.1" y2="979.6" stroke="#777" stroke-width="0.9"/>
<line x1="337" y1="979.6" x2="344" y2="979.6" stroke="#777" stroke-width="0.9"/>
<rect x="394.7" y="949.3" width="66.4" height="34" fill="#c9c9cc" stroke="#333" stroke-width="1.3"/>
<line x1="394.7" y1="960.2" x2="461.1" y2="960.2" stroke="#555" stroke-width="1"/>
<line x1="394.7" y1="971.5" x2="461.1" y2="971.5" stroke="#555" stroke-width="1"/>
<circle cx="403.3" cy="954.7" r="1.5" fill="#000"/>
<circle cx="418.3" cy="954.7" r="1.5" fill="#000"/>
<circle cx="431.5" cy="954.7" r="1.5" fill="#000"/>
<circle cx="444.4" cy="954.7" r="1.5" fill="#000"/>
<circle cx="411.3" cy="965.8" r="1.5" fill="#000"/>
<circle cx="424.8" cy="965.8" r="1.5" fill="#000"/>
<circle cx="438.2" cy="965.8" r="1.5" fill="#000"/>
<circle cx="452.5" cy="965.8" r="1.5" fill="#000"/>
<circle cx="403.3" cy="977.1" r="1.5" fill="#000"/>
<circle cx="418.3" cy="977.1" r="1.5" fill="#000"/>
<circle cx="431.5" cy="977.1" r="1.5" fill="#000"/>
<circle cx="444.4" cy="977.1" r="1.5" fill="#000"/>
<rect x="499.9" y="951.5" width="66.8" height="34" fill="#fff" stroke="#111" stroke-width="1.4"/>
<line x1="500.5" y1="953.3" x2="566" y2="953.3" stroke="#9a8f8a" stroke-width="1"/>
<rect x="499.9" y="954.5" width="66.8" height="5.4" fill="#000"/>
<rect x="499.9" y="965.6" width="66.8" height="5.6" fill="#000"/>
<rect x="499.9" y="976.8" width="66.8" height="5.4" fill="#000"/>
<rect x="608.3" y="951.5" width="66.6" height="34" fill="#f4f4f4" stroke="#222" stroke-width="1.4"/>
<line x1="609" y1="954.2" x2="674.3" y2="954.2" stroke="#aaa39f" stroke-width="0.8"/>
<line x1="609" y1="957.1" x2="674.3" y2="957.1" stroke="#aaa39f" stroke-width="0.8"/>
<line x1="609" y1="959.9" x2="674.3" y2="959.9" stroke="#aaa39f" stroke-width="0.8"/>
<line x1="609" y1="962.8" x2="674.3" y2="962.8" stroke="#aaa39f" stroke-width="0.8"/>
<line x1="609" y1="965.6" x2="674.3" y2="965.6" stroke="#aaa39f" stroke-width="0.8"/>
<line x1="609" y1="968.5" x2="674.3" y2="968.5" stroke="#aaa39f" stroke-width="0.8"/>
<line x1="609" y1="971.3" x2="674.3" y2="971.3" stroke="#aaa39f" stroke-width="0.8"/>
<line x1="609" y1="974.2" x2="674.3" y2="974.2" stroke="#aaa39f" stroke-width="0.8"/>
<line x1="609" y1="977" x2="674.3" y2="977" stroke="#aaa39f" stroke-width="0.8"/>
<line x1="609" y1="979.9" x2="674.3" y2="979.9" stroke="#aaa39f" stroke-width="0.8"/>
<line x1="609" y1="982.7" x2="674.3" y2="982.7" stroke="#aaa39f" stroke-width="0.8"/>
<line x1="615.8" y1="960.4" x2="620.8" y2="954" stroke="#555" stroke-width="0.7"/>
<line x1="618" y1="960.4" x2="623" y2="954" stroke="#555" stroke-width="0.7"/>
<line x1="620.2" y1="960.4" x2="625.2" y2="954" stroke="#555" stroke-width="0.7"/>
<line x1="642.2" y1="960.4" x2="647.2" y2="954" stroke="#555" stroke-width="0.7"/>
<line x1="644.4" y1="960.4" x2="649.4" y2="954" stroke="#555" stroke-width="0.7"/>
<line x1="646.6" y1="960.4" x2="651.6" y2="954" stroke="#555" stroke-width="0.7"/>
<line x1="615.8" y1="971.7" x2="620.8" y2="965.3" stroke="#555" stroke-width="0.7"/>
<line x1="618" y1="971.7" x2="623" y2="965.3" stroke="#555" stroke-width="0.7"/>
<line x1="620.2" y1="971.7" x2="625.2" y2="965.3" stroke="#555" stroke-width="0.7"/>
<line x1="642.2" y1="971.7" x2="647.2" y2="965.3" stroke="#555" stroke-width="0.7"/>
<line x1="644.4" y1="971.7" x2="649.4" y2="965.3" stroke="#555" stroke-width="0.7"/>
<line x1="646.6" y1="971.7" x2="651.6" y2="965.3" stroke="#555" stroke-width="0.7"/>
<line x1="615.8" y1="983" x2="620.8" y2="976.6" stroke="#555" stroke-width="0.7"/>
<line x1="618" y1="983" x2="623" y2="976.6" stroke="#555" stroke-width="0.7"/>
<line x1="620.2" y1="983" x2="625.2" y2="976.6" stroke="#555" stroke-width="0.7"/>
<line x1="642.2" y1="983" x2="647.2" y2="976.6" stroke="#555" stroke-width="0.7"/>
<line x1="644.4" y1="983" x2="649.4" y2="976.6" stroke="#555" stroke-width="0.7"/>
<line x1="646.6" y1="983" x2="651.6" y2="976.6" stroke="#555" stroke-width="0.7"/>
<g font-family="Liberation Serif" fill="#2a2a2a">
<text x="186.6" y="921.8" font-size="11" fill="#2a2a2a" textLength="47" lengthAdjust="spacingAndGlyphs">Yellowish</text>
<text x="186.2" y="933.1" font-size="11" fill="#2a2a2a" textLength="63.5" lengthAdjust="spacingAndGlyphs">conglomerate</text>
<text x="285.9" y="922.7" font-size="11" fill="#2a2a2a" textLength="72.5" lengthAdjust="spacingAndGlyphs">Gravelly coarse</text>
<text x="285.9" y="934.1" font-size="11" fill="#2a2a2a" textLength="62.5" lengthAdjust="spacingAndGlyphs">conglomerate</text>
<text x="404.2" y="921.5" font-size="11" fill="#2a2a2a" textLength="31.5" lengthAdjust="spacingAndGlyphs">Coarse</text>
<text x="404.2" y="933.3" font-size="11" fill="#2a2a2a" textLength="45.2" lengthAdjust="spacingAndGlyphs">sandstone</text>
<text x="512.2" y="922.2" font-size="11" fill="#2a2a2a" textLength="41" lengthAdjust="spacingAndGlyphs">Siltstone</text>
<text x="607.6" y="921.5" font-size="11" fill="#2a2a2a" textLength="75.5" lengthAdjust="spacingAndGlyphs">Muddy Siltstone</text>
<text x="188.8" y="1001.5" font-size="11" fill="#2a2a2a" textLength="46" lengthAdjust="spacingAndGlyphs">Mudstone</text>
<text x="290" y="1001.5" font-size="11" fill="#2a2a2a" textLength="69.3" lengthAdjust="spacingAndGlyphs">Silty mudstone</text>
<text x="404.2" y="1001.5" font-size="11" fill="#2a2a2a" textLength="20" lengthAdjust="spacingAndGlyphs">Fine</text>
<text x="404.2" y="1012.9" font-size="11" fill="#2a2a2a" textLength="45.2" lengthAdjust="spacingAndGlyphs">sandstone</text>
<text x="524.8" y="1000.8" font-size="11" fill="#2a2a2a" textLength="22" lengthAdjust="spacingAndGlyphs">Coal</text>
<text x="623.8" y="1001.3" font-size="11" fill="#2a2a2a" textLength="40.3" lengthAdjust="spacingAndGlyphs">Oil shale</text>
</g>
<defs><linearGradient id="gv" x1="0" y1="0" x2="0" y2="1"><stop offset="0" stop-color="#000" stop-opacity="0"/><stop offset="1" stop-color="#000" stop-opacity="0.03"/></linearGradient><linearGradient id="gh" x1="0" y1="0" x2="1" y2="0"><stop offset="0" stop-color="#fff"/><stop offset="0.6" stop-color="#fff" stop-opacity="0.5"/><stop offset="1" stop-color="#fff" stop-opacity="0.15"/></linearGradient><mask id="mh"><rect x="0" y="995" width="837" height="28" fill="url(#gh)"/></mask></defs>
<rect x="0" y="1001" width="837" height="22" fill="url(#gv)" mask="url(#mh)"/>
</svg>
</body></html>
